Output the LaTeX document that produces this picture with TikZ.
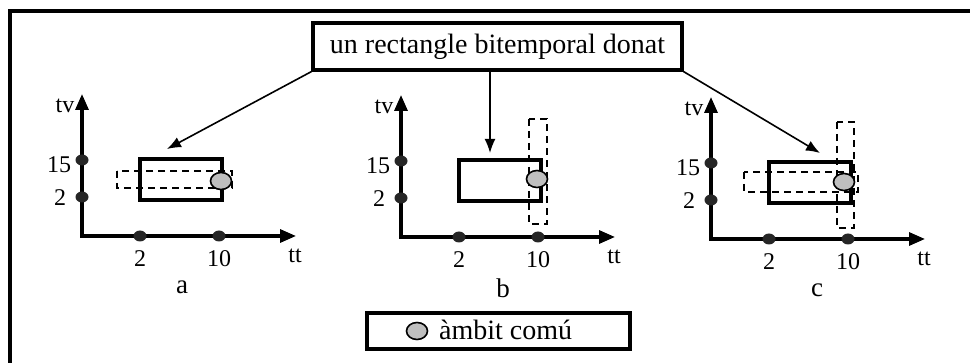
\documentclass[tikz,border=0pt]{standalone}
\usepackage{fontspec}
\setmainfont{Liberation Serif}
\usetikzlibrary{arrows.meta,shapes.geometric}

\begin{document}
\begin{tikzpicture}[x=1pt, y=-1pt, font=\fontsize{24}{26}\selectfont,
  axis/.style={line width=3.2pt, {Triangle[length=16pt,width=13pt]}-{Triangle[length=16pt,width=13pt]}},
  dot/.style={ellipse, fill=black!85, inner sep=0pt, minimum width=13pt, minimum height=11pt},
  solidbox/.style={draw, line width=3.2pt},
  dashbox/.style={draw, line width=2pt, dash pattern=on 7pt off 5pt},
  common/.style={ellipse, draw, line width=1.6pt, fill=black!25, inner sep=0pt, minimum width=21pt, minimum height=17pt},
  pointer/.style={line width=1.6pt, -{Latex[length=14pt,width=11pt]}}]

\useasboundingbox (0,0) rectangle (970,363);
\clip (0,0) rectangle (970,363);
\draw[line width=3.8pt] (10,400) -- (10,11) -- (1000,11);

% ===== Title and legend =====
\node[draw, line width=3.2pt, minimum width=369pt, minimum height=47pt, inner sep=0pt,
  font=\fontsize{28}{30}\selectfont] (title) at (497.5,46.5) {un rectangle bitemporal donat};

\node[draw, line width=3.2pt, minimum width=263pt, minimum height=36pt] (legend) at (498.5,331) {};
\node[common] (legdot) at (417,331) {};
\node[anchor=west, inner sep=0pt, font=\fontsize{28}{30}\selectfont] (legtxt) at (439,330) {àmbit comú};

% ===== Three panels: axes, ticks, labels =====
\foreach \p/\ox/\oy/\lx in {a/82/236/100, b/401/237/102, c/711/239/106} {
  \begin{scope}[shift={(\ox,\oy)}]
    \coordinate (ytop\p) at (0,-142);
    \coordinate (o\p) at (0,0);
    \coordinate (xend\p) at (214,0);
    \draw[axis] (ytop\p) -- (o\p) -- (xend\p);
    \node[dot] (v15\p) at (0,-76) {};
    \node[dot] (v2\p) at (0,-39) {};
    \node[dot] (h2\p) at (58,0) {};
    \node[dot] (h10\p) at (137,0) {};
    \node (tv\p) at (-17,-130) {tv};
    \node (l15\p) at (-23,-71) {15};
    \node (l2\p) at (-22,-38) {2};
    \node (lx2\p) at (58,23) {2};
    \node (lx10\p) at (137,23) {10};
    \node (tt\p) at (213,20) {tt};
    \node[font=\fontsize{27}{29}\selectfont] (lab\p) at (\lx,51) {\p};
    \draw[solidbox] (58,-77) rectangle (140,-36);
  \end{scope}
}

% ===== Dashed ranges and common parts =====
\begin{scope}[shift={(82,236)}]
  \draw[dashbox] (35,-65) rectangle (150,-48);
  \node[common] (cma) at (139,-55) {};
\end{scope}

\begin{scope}[shift={(401,237)}]
  \draw[dashbox] (128,-118) rectangle (146,-13);
  \node[common] (cmb) at (136,-58) {};
\end{scope}

\begin{scope}[shift={(711,239)}]
  \draw[dashbox] (33,-67) rectangle (147,-47);
  \draw[dashbox] (126,-117) rectangle (143,-11);
  \node[common] (cmc) at (133,-57) {};
\end{scope}

% ===== Pointers from the title =====
\coordinate (tgta) at (167,149);
\coordinate (tgtb) at (490,153);
\coordinate (tgtc) at (820,153);
\draw[pointer] (title.south west) -- (tgta);
\draw[pointer] (title.south -| tgtb) -- (tgtb);
\draw[pointer] (title.south east) -- (tgtc);

\end{tikzpicture}
\end{document}
